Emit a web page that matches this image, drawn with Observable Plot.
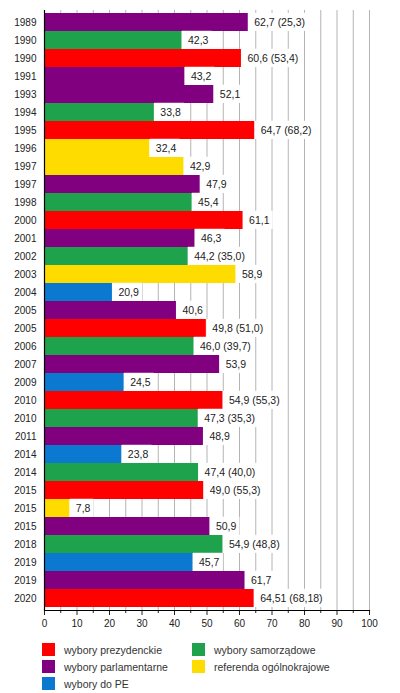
<!DOCTYPE html>
<html>
<head>
<meta charset="utf-8">
<script src="https://cdn.jsdelivr.net/npm/d3@7"></script>
<script src="https://cdn.jsdelivr.net/npm/@observablehq/plot@0.6"></script>
<style>
  body { margin: 0; background: #fff; font-family: "Liberation Sans", Arial, Helvetica, sans-serif; }
  #chart svg { display: block; }
  .legend { position: relative; width: 400px; height: 57px; font-size: 10.5px; color: #333; }
  .item { position: absolute; display: flex; align-items: center; height: 13px; }
  .sw { width: 13px; height: 13px; margin-right: 9px; }
</style>
</head>
<body>
<div id="chart"></div>
<div class="legend" id="legend"></div>
<script>
const years = ["1989","1990","1990","1991","1993","1994","1995","1996","1997","1997","1998","2000","2001","2002","2003","2004","2005","2005","2006","2007","2009","2010","2010","2011","2014","2014","2015","2015","2015","2018","2019","2019","2020"];
const turnout = [62.7,42.3,60.6,43.2,52.1,33.8,64.7,32.4,42.9,47.9,45.4,61.1,46.3,44.2,58.9,20.9,40.6,49.8,46.0,53.9,24.5,54.9,47.3,48.9,23.8,47.4,49.0,7.8,50.9,54.9,45.7,61.7,64.51];
const valueLabels = ["62,7 (25,3)","42,3","60,6 (53,4)","43,2","52,1","33,8","64,7 (68,2)","32,4","42,9","47,9","45,4","61,1","46,3","44,2 (35,0)","58,9","20,9","40,6","49,8 (51,0)","46,0 (39,7)","53,9","24,5","54,9 (55,3)","47,3 (35,3)","48,9","23,8","47,4 (40,0)","49,0 (55,3)","7,8","50,9","54,9 (48,8)","45,7","61,7","64,51 (68,18)"];
const kinds = ["parl","sam","prez","parl","parl","sam","prez","ref","ref","parl","sam","prez","parl","sam","ref","pe","parl","prez","sam","parl","pe","prez","sam","parl","pe","sam","prez","ref","parl","sam","pe","parl","prez"];
const kindKeys = ["prez","parl","pe","sam","ref"];
const kindNames = ["wybory prezydenckie","wybory parlamentarne","wybory do PE","wybory samorządowe","referenda ogólnokrajowe"];
const kindColors = ["#ff0000","#800080","#0a79cf","#1fa24c","#ffdc00"];
const majorTicks = [0,10,20,30,40,50,60,70,80,90,100];
const minorTicks = [5,15,25,35,45,55,65,75,85,95];
const gridTicks = [5,10,15,20,25,30,35,40,45,50,55,60,65,70,75,80,85,90,95,100];

const rows = years.map((y, i) => ({i, year: y, v: turnout[i], label: valueLabels[i], kind: kinds[i]}));
const idx = rows.map(d => d.i);

const chart = Plot.plot({
  width: 400,
  height: 636,
  marginLeft: 44,
  marginRight: 31,
  marginTop: 10,
  marginBottom: 26,
  style: {fontFamily: "'Liberation Sans', Arial, Helvetica, sans-serif", fontSize: "10px", color: "#222", background: "#fff"},
  x: {domain: [0, 100], axis: null, label: null},
  y: {domain: idx, padding: 0, axis: null, label: null},
  color: {domain: kindKeys, range: kindColors},
  marks: [
    Plot.ruleX(gridTicks, {stroke: "#b4b4b4", strokeWidth: 1}),
    Plot.barX(rows, {y: "i", x: "v", fill: "kind", inset: 0}),
    Plot.text(rows, {y: "i", x: "v", text: "label", textAnchor: "start", dx: 6, fontSize: 10.5, fill: "#222"}),
    Plot.axisY({domain: idx, label: null, tickSize: 0, tickPadding: 8, tickFormat: i => years[i], fontSize: 10, fill: "#222"}),
    Plot.axisX(majorTicks, {label: null, tickSize: 5, tickPadding: 4, tickFormat: d => String(d), fontSize: 10, fill: "#222"}),
    Plot.axisX(minorTicks, {label: null, tickSize: 3, tickFormat: () => ""}),
    Plot.ruleX([0], {stroke: "#000", strokeWidth: 1.2}),
    Plot.frame({anchor: "bottom", stroke: "#000", strokeWidth: 1.2})
  ]
});
document.getElementById("chart").appendChild(chart);

// white label boxes behind value labels
const textGroup = chart.querySelector('g[aria-label="text"]');
if (textGroup) {
  const bandH = 600 / years.length;
  const ns = "http://www.w3.org/2000/svg";
  const boxes = document.createElementNS(ns, "g");
  textGroup.querySelectorAll("text").forEach(t => {
    const b = t.getBBox();
    const r = document.createElementNS(ns, "rect");
    const cy = b.y + b.height / 2;
    r.setAttribute("x", b.x - 6);
    r.setAttribute("y", cy - bandH / 2);
    r.setAttribute("width", b.width + 9);
    r.setAttribute("height", bandH);
    r.setAttribute("fill", "#fff");
    if (t.getAttribute("transform")) r.setAttribute("transform", t.getAttribute("transform"));
    boxes.appendChild(r);
  });
  if (textGroup.getAttribute("transform")) boxes.setAttribute("transform", textGroup.getAttribute("transform"));
  textGroup.parentNode.insertBefore(boxes, textGroup);
}

// legend
const legend = document.getElementById("legend");
const positions = [[42, 7], [42, 24], [42, 41], [192, 7], [192, 24]];
kindKeys.forEach((k, j) => {
  const it = document.createElement("div");
  it.className = "item";
  it.style.left = positions[j][0] + "px";
  it.style.top = positions[j][1] + "px";
  const sw = document.createElement("div");
  sw.className = "sw";
  sw.style.background = kindColors[j];
  const lab = document.createElement("span");
  lab.textContent = kindNames[j];
  it.appendChild(sw);
  it.appendChild(lab);
  legend.appendChild(it);
});
</script>
</body>
</html>
